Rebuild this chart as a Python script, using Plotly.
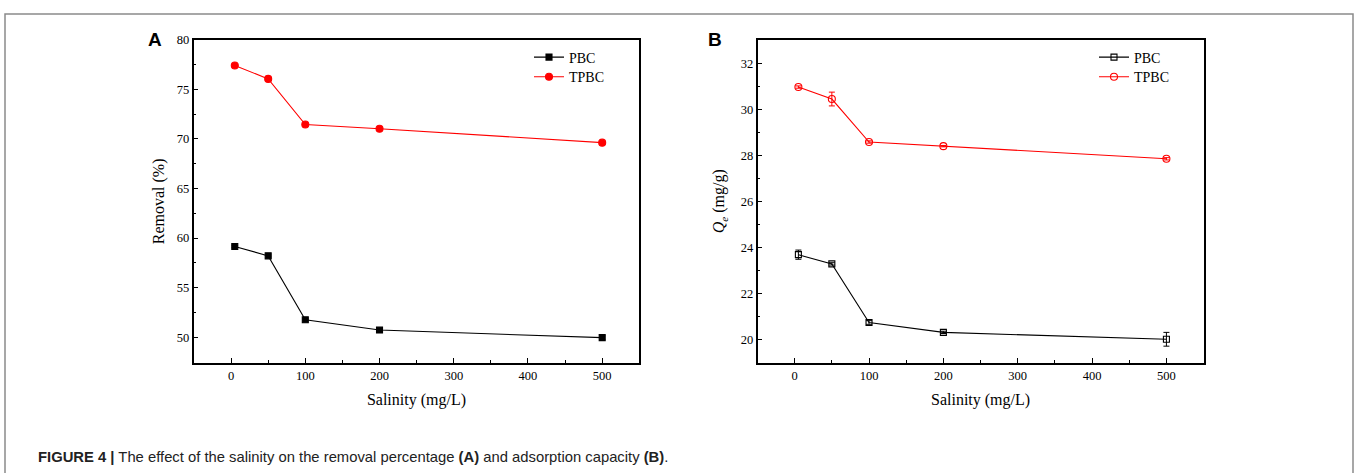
import plotly.graph_objects as go

W, H = 1359, 473

salinity = [5, 50, 100, 200, 500]
# Panel A: Removal (%)
pbc_removal = [59.15, 58.2, 51.75, 50.72, 49.95]
pbc_removal_err = [0.1, 0.1, 0.1, 0.1, 0.2]
tpbc_removal = [77.4, 76.05, 71.45, 71.02, 69.62]
tpbc_removal_err = [0.1, 0.25, 0.05, 0.05, 0.05]
# Panel B: Qe (mg/g)
pbc_qe = [23.68, 23.28, 20.73, 20.30, 20.0]
pbc_qe_err = [0.2, 0.05, 0.08, 0.05, 0.3]
tpbc_qe = [30.97, 30.45, 28.58, 28.40, 27.85]
tpbc_qe_err = [0.05, 0.3, 0.05, 0.03, 0.05]

x_ticks = [0, 100, 200, 300, 400, 500]
yA_ticks = [50, 55, 60, 65, 70, 75, 80]
yB_ticks = [20, 22, 24, 26, 28, 30, 32]

SERIF = "Liberation Serif"
BLACK = "#000000"
RED = "#FF0000"

fig = go.Figure()

def add(x, y, err, name, color, symbol, size, xa, ya, legend):
    fig.add_trace(go.Scatter(
        x=x, y=y, name=name, mode="lines+markers",
        line=dict(color=color, width=1.1),
        marker=dict(symbol=symbol, size=size, color=color,
                    line=dict(color=color, width=1.1)),
        error_y=dict(type="data", array=err, visible=True, color=color,
                     thickness=1, width=3),
        xaxis=xa, yaxis=ya, showlegend=True, legend=legend,
    ))

add(salinity, pbc_removal, pbc_removal_err, "PBC", BLACK, "square", 6, "x", "y", "legend")
add(salinity, tpbc_removal, tpbc_removal_err, "TPBC", RED, "circle", 7, "x", "y", "legend2")
add(salinity, pbc_qe, pbc_qe_err, "PBC", BLACK, "square-open", 6, "x2", "y2", "legend3")
add(salinity, tpbc_qe, tpbc_qe_err, "TPBC", RED, "circle-open", 7, "x2", "y2", "legend4")

ydom = [1 - 361.3 / H, 1 - 33.2 / H]

axis_common = dict(
    showline=True, linecolor=BLACK, linewidth=1.5, mirror=True,
    ticks="inside", ticklen=5, tickwidth=1, tickcolor=BLACK,
    showgrid=False, zeroline=False,
    tickfont=dict(family=SERIF, size=12.5, color=BLACK),
)
title_font = dict(family=SERIF, size=16, color=BLACK)

def leg(xpx, ypx):
    return dict(x=xpx / W, y=1 - ypx / H, xanchor="left", yanchor="top",
                bgcolor="rgba(0,0,0,0)", font=dict(family=SERIF, size=14, color=BLACK),
                itemwidth=30, tracegroupgap=0)

fig.update_layout(
    width=W, height=H,
    margin=dict(l=0, r=0, t=0, b=0),
    paper_bgcolor="white", plot_bgcolor="white",
    xaxis=dict(domain=[193.6 / W, 639.3 / W], range=[-50.5, 550], anchor="y",
               tickvals=x_ticks,
               minor=dict(ticks="inside", ticklen=3, tickvals=[50, 150, 250, 350, 450], tickcolor=BLACK),
               title=dict(text="Salinity (mg/L)", font=title_font, standoff=12),
               **axis_common),
    yaxis=dict(domain=ydom, range=[47.4, 80.0], anchor="x",
               tickvals=yA_ticks,
               minor=dict(ticks="inside", ticklen=3, dtick=2.5, tick0=50, tickcolor=BLACK),
               title=dict(text="Removal (%)", font=title_font, standoff=8),
               **axis_common),
    xaxis2=dict(domain=[757.5 / W, 1203.6 / W], range=[-50, 550], anchor="y2",
                tickvals=x_ticks,
                minor=dict(ticks="inside", ticklen=3, tickvals=[50, 150, 250, 350, 450], tickcolor=BLACK),
                title=dict(text="Salinity (mg/L)", font=title_font, standoff=12),
                **axis_common),
    yaxis2=dict(domain=ydom, range=[18.97, 33.03], anchor="x2",
                tickvals=yB_ticks,
                minor=dict(ticks="inside", ticklen=3, dtick=1, tick0=20, tickcolor=BLACK),
                title=dict(text="<i>Q</i><sub><i>e</i></sub> (mg/g)", font=title_font, standoff=12),
                **axis_common),
    legend=leg(529, 35),
    legend2=leg(529, 55),
    legend3=leg(1094, 35),
    legend4=leg(1094, 55),
    showlegend=True,
)

# Figure border
fig.add_shape(type="rect", xref="paper", yref="paper",
              x0=5 / W, x1=1353 / W, y0=-0.2, y1=1 - 7 / H,
              line=dict(color="#8a8a8a", width=1.5), fillcolor="rgba(0,0,0,0)", layer="below")

# Panel labels
for lbl, xpx in (("A", 155), ("B", 715)):
    fig.add_annotation(x=xpx / W, y=1 - 33 / H, xref="paper", yref="paper", text="<b>%s</b>" % lbl,
                       xanchor="center", yanchor="middle",
                       showarrow=False, font=dict(family="Liberation Sans", size=19, color=BLACK))

# Caption
fig.add_annotation(x=36 / W, y=1 - 457 / H, xref="paper", yref="paper", xanchor="left", yanchor="middle",
                   text="<b>FIGURE 4 |</b> The effect of the salinity on the removal percentage <b>(A)</b> and adsorption capacity <b>(B)</b>.",
                   showarrow=False, font=dict(family="Liberation Sans", size=14.8, color="#222222"))

fig.write_html("out.html")
